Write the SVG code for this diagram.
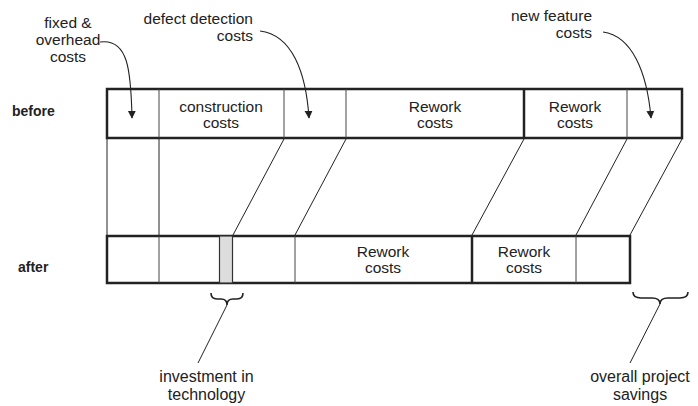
<svg xmlns="http://www.w3.org/2000/svg" width="698" height="406" viewBox="0 0 698 406">
<style>
text{font-family:"Liberation Sans",Arial,sans-serif;fill:#222;}
.lbl{font-size:15.5px;}
.big{font-size:16px;}
.row{font-size:14px;font-weight:bold;}
.bar{fill:#fff;stroke:#222;stroke-width:2.5;}
.div{stroke:#444;stroke-width:1;fill:none;}
.thick{stroke:#222;stroke-width:2.5;fill:none;}
.con{stroke:#222;stroke-width:1;fill:none;}
.arr{stroke:#222;stroke-width:1.1;fill:none;marker-end:url(#ah);}
.brace{stroke:#222;stroke-width:1.6;fill:none;}
</style>
<defs>
<marker id="ah" viewBox="0 0 10 10" refX="9" refY="5" markerWidth="8" markerHeight="9" markerUnits="userSpaceOnUse" orient="auto">
<path d="M0,0 L10,5 L0,10 z" fill="#222"/>
</marker>
</defs>

<g id="before">
<rect class="bar" x="107" y="89" width="575" height="49"/>
<line class="div" x1="159" y1="89" x2="159" y2="138"/>
<line class="div" x1="284" y1="89" x2="284" y2="138"/>
<line class="div" x1="346" y1="89" x2="346" y2="138"/>
<line class="thick" x1="524" y1="89" x2="524" y2="138"/>
<line class="div" x1="627" y1="89" x2="627" y2="138"/>
<text class="row" x="12" y="116">before</text>
<text class="lbl" x="221" y="112" text-anchor="middle">construction</text>
<text class="lbl" x="221" y="128" text-anchor="middle">costs</text>
<text class="lbl" x="435" y="112" text-anchor="middle">Rework</text>
<text class="lbl" x="435" y="128" text-anchor="middle">costs</text>
<text class="lbl" x="575" y="112" text-anchor="middle">Rework</text>
<text class="lbl" x="575" y="128" text-anchor="middle">costs</text>
</g>

<g id="after">
<rect class="bar" x="107" y="236" width="523" height="47"/>
<line class="div" x1="159" y1="236" x2="159" y2="283"/>
<rect x="219.5" y="236" width="13" height="47" fill="#ddd" stroke="#333" stroke-width="1.2"/>
<line class="div" x1="295" y1="236" x2="295" y2="283"/>
<line class="thick" x1="472" y1="236" x2="472" y2="283"/>
<line class="div" x1="576" y1="236" x2="576" y2="283"/>
<text class="row" x="18" y="272">after</text>
<text class="lbl" x="383" y="257" text-anchor="middle">Rework</text>
<text class="lbl" x="383" y="273" text-anchor="middle">costs</text>
<text class="lbl" x="524" y="257" text-anchor="middle">Rework</text>
<text class="lbl" x="524" y="273" text-anchor="middle">costs</text>
</g>

<g id="fixed-overhead">
<text class="lbl" x="68" y="28" text-anchor="middle">fixed &amp;</text>
<text class="lbl" x="68" y="45" text-anchor="middle">overhead</text>
<text class="lbl" x="68" y="62" text-anchor="middle">costs</text>
</g>

<g id="defect-detection">
<text class="lbl" x="253" y="24" text-anchor="end">defect detection</text>
<text class="lbl" x="253" y="41" text-anchor="end">costs</text>
</g>

<g id="new-feature">
<text class="lbl" x="592" y="21" text-anchor="end">new feature</text>
<text class="lbl" x="592" y="38" text-anchor="end">costs</text>
</g>

<g id="investment">
<path class="brace" d="M211 293 Q211 299 217 299 L221 299 Q227 299 227 305 Q227 299 233 299 L237 299 Q243 299 243 293"/>
<text class="big" x="206.5" y="382" text-anchor="middle">investment in</text>
<text class="big" x="206.5" y="400" text-anchor="middle">technology</text>
</g>

<g id="savings">
<path class="brace" d="M633 292 Q633 298 641 298 L652 298 Q660 298 660 304 Q660 298 668 298 L680 298 Q688 298 688 292"/>
<text class="big" x="640" y="382" text-anchor="middle">overall project</text>
<text class="big" x="640" y="400" text-anchor="middle">savings</text>
</g>

<g id="connectors">
<line class="con" x1="107" y1="139" x2="107" y2="235"/>
<line class="con" x1="159" y1="139" x2="159" y2="235"/>
<line class="con" x1="284" y1="139" x2="233" y2="235"/>
<line class="con" x1="346" y1="139" x2="295" y2="235"/>
<line class="con" x1="524" y1="139" x2="472" y2="235"/>
<line class="con" x1="627" y1="139" x2="576" y2="235"/>
<line class="con" x1="682" y1="139" x2="630" y2="235"/>
<path class="arr" d="M100 42 C128 38 131 70 132 118"/>
<path class="arr" d="M260 31 C292 35 306 72 309 118"/>
<path class="arr" d="M603 32 C632 36 647 72 651 118"/>
<line class="con" x1="227" y1="305" x2="198" y2="363"/>
<line class="con" x1="660" y1="304" x2="630" y2="363"/>
</g>
</svg>
